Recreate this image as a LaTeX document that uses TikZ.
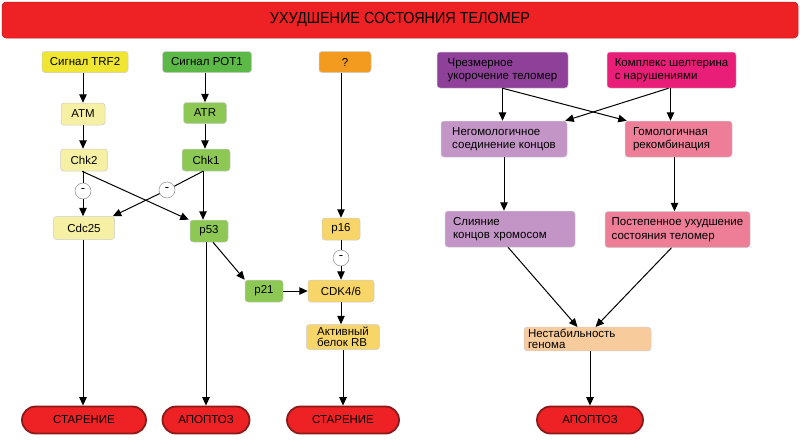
\documentclass[tikz,border=0pt]{standalone}
\usepackage{fontspec}
\setmainfont{Liberation Sans}
\newfontfamily\narrowfont[FakeStretch=0.9]{Liberation Sans}
\usetikzlibrary{arrows.meta}
\definecolor{titlered}{HTML}{EE2224}
\definecolor{pillborder}{HTML}{8B1A1A}
\definecolor{yel}{HTML}{F0E530}
\definecolor{lyel}{HTML}{F5F0A3}
\definecolor{grn}{HTML}{5DB947}
\definecolor{lgrn}{HTML}{8DC855}
\definecolor{orng}{HTML}{F39B1F}
\definecolor{lorng}{HTML}{F8D568}
\definecolor{dpurp}{HTML}{8F4199}
\definecolor{magn}{HTML}{E91E78}
\definecolor{lpurp}{HTML}{C295C6}
\definecolor{pnk}{HTML}{EE7E98}
\definecolor{peach}{HTML}{F7CB9B}
\begin{document}
\begin{tikzpicture}[x=1pt,y=-1pt,
  box/.style={rectangle, rounded corners=3pt, draw=black!20, line width=0.5pt,
    font=\fontsize{11.5}{12}\selectfont, inner sep=2pt},
  wbox/.style={box, align=left, inner xsep=4pt, minimum height=36pt,
    font=\fontsize{11.5}{13.5}\selectfont},
  pill/.style={rectangle, rounded corners=13.5pt, fill=titlered, draw=pillborder,
    line width=1.8pt, minimum height=27pt, font=\fontsize{11.5}{12}\selectfont},
  minus/.style={circle, draw=black!45, fill=white, line width=0.5pt,
    minimum size=16pt, inner sep=0pt, font=\fontsize{13}{13}\selectfont},
  arr/.style={-{Triangle[length=8.5pt,width=7.5pt]}, line width=1pt},
  ln/.style={line width=1pt}]
\useasboundingbox (0,0) rectangle (800,439);

% title
\node[rectangle, rounded corners=4pt, fill=titlered, draw=titlered!80!black,
  line width=0.5pt, minimum width=796pt, minimum height=36pt,
  font=\narrowfont\fontsize{16}{18}\selectfont] (title) at (400,20) {УХУДШЕНИЕ СОСТОЯНИЯ ТЕЛОМЕР};

% left part
\node[box, fill=yel, minimum width=86pt, minimum height=21pt] (trf2) at (85,62) {Сигнал TRF2};
\node[box, fill=grn, minimum width=89pt, minimum height=21pt] (pot1) at (207,62) {Сигнал POT1};
\node[box, fill=orng, minimum width=52pt, minimum height=21pt] (q) at (345,62) {?};
\node[box, fill=lyel, minimum width=44pt, minimum height=22pt] (atm) at (83,114) {ATM};
\node[box, fill=lgrn, minimum width=43pt, minimum height=21pt] (atr) at (205,113) {ATR};
\node[box, fill=lyel, minimum width=47pt, minimum height=22pt] (chk2) at (84,160) {Chk2};
\node[box, fill=lgrn, minimum width=48pt, minimum height=22pt] (chk1) at (206,160) {Chk1};
\node[minus] (m1) at (83,191) {-};
\node[minus] (m2) at (167,190) {-};
\node[box, fill=lyel, minimum width=61pt, minimum height=23pt] (cdc25) at (84,228) {Cdc25};
\node[box, fill=lgrn, minimum width=38pt, minimum height=22pt] (p53) at (209,231) {p53};
\node[box, fill=lorng, minimum width=38pt, minimum height=22pt] (p16) at (341,229) {p16};
\node[minus] (m3) at (341,258) {-};
\node[box, fill=lgrn, minimum width=38pt, minimum height=22pt] (p21) at (264,291) {p21};
\node[box, fill=lorng, minimum width=66pt, minimum height=22pt] (cdk) at (341,291) {CDK4/6};
\node[box, fill=lorng, minimum width=73pt, minimum height=25pt, align=left,
  font=\fontsize{11.5}{10.5}\selectfont] (rb) at (343,337) {Активный\\белок RB};

\node[pill, minimum width=124pt] (ster1) at (84,420) {СТАРЕНИЕ};
\node[pill, minimum width=87pt] (apo1) at (206,420) {АПОПТОЗ};
\node[pill, minimum width=112pt] (ster2) at (343,420) {СТАРЕНИЕ};
\node[pill, minimum width=106pt] (apo2) at (590,420) {АПОПТОЗ};

% right part
\node[wbox, fill=dpurp, minimum width=131pt] (chrez) at (502.5,70) {Чрезмерное\\укорочение теломер};
\node[wbox, fill=magn, minimum width=129pt] (kompl) at (671.5,70) {Комплекс шелтерина\\с нарушениями};
\node[wbox, fill=lpurp, minimum width=126pt] (negom) at (504,139) {Негомологичное\\соединение концов};
\node[wbox, fill=pnk, text width=91pt, inner xsep=8pt] (gomo) at (678.5,139) {Гомологичная\\рекомбинация};
\node[wbox, fill=lpurp, text width=114pt, inner xsep=8pt] (sliy) at (510,229) {Слияние\\концов хромосом};
\node[wbox, fill=pnk, minimum width=145pt] (post) at (677.5,229.5) {Постепенное ухудшение\\состояния теломер};
\node[box, fill=peach, minimum width=127pt, minimum height=23pt, align=left,
  text width=119pt, font=\fontsize{11.5}{11}\selectfont] (nest) at (587.5,339) {Нестабильность\\генома};

% left arrows
\draw[arr] (trf2.south -| atm) -- (atm.north);
\draw[arr] (atm) -- (chk2.north -| atm);
\draw[arr] (pot1.south -| atr) -- (atr.north);
\draw[arr] (atr) -- (chk1.north -| atr);
\draw[ln] (chk2.south -| m1) -- (m1);
\draw[arr] (m1) -- (cdc25.north -| m1);
\draw[arr] ([xshift=-2pt]chk2.south) -- ([xshift=-1pt]p53.north west);
\draw[ln] ([xshift=-3pt]chk1.south) -- (m2);
\draw[arr] (m2) -- ([xshift=-2pt]cdc25.north east);
\draw[arr] ([xshift=-3pt]chk1.south) -- ([xshift=-6pt]p53.north);
\draw[arr] ([xshift=4pt]p53.south) -- (p21.north west);
\draw[arr] (p53.south -| apo1) -- (apo1.north);
\draw[arr] (cdc25.south -| m1) -- (ster1.north -| m1);
\draw[arr] (q.south -| p16) -- (p16.north);
\draw[ln] (p16) -- (m3);
\draw[arr] (m3) -- (cdk.north -| m3);
\draw[arr] (p21) -- (cdk);
\draw[arr] (cdk) -- (rb.north -| cdk);
\draw[arr] (rb) -- (ster2);

% right arrows
\draw[arr] (chrez.south) -- (chrez.south |- negom.north);
\draw[arr] (chrez.south) -- ([xshift=2pt]gomo.north west);
\draw[arr] ([xshift=-1pt]kompl.south) -- ([xshift=-1pt]kompl.south |- gomo.north);
\draw[arr] ([xshift=-3pt]kompl.south) -- ([xshift=-2pt]negom.north east);
\draw[arr] (negom.south) -- (negom.south |- sliy.north);
\draw[arr] ([xshift=-4pt]gomo.south) -- ([xshift=-4pt]gomo.south |- post.north);
\draw[arr] ([xshift=-2pt]sliy.south) -- ([xshift=-10pt]nest.north);
\draw[arr] ([xshift=-6pt]post.south) -- ([xshift=8pt]nest.north);
\draw[arr] (nest.south -| apo2) -- (apo2.north);
\end{tikzpicture}
\end{document}
